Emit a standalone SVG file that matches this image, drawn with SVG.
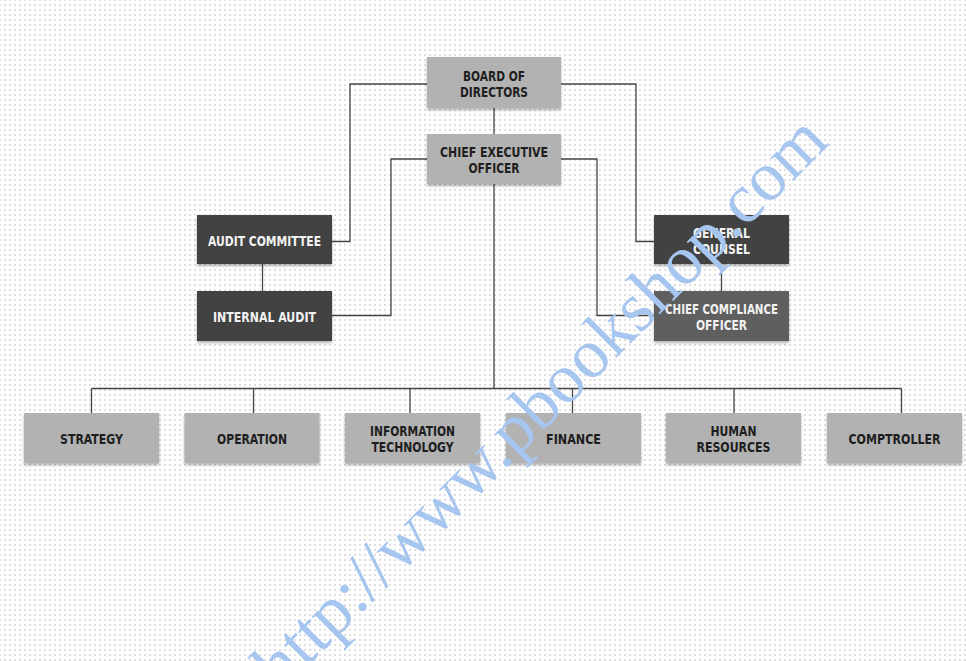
<svg xmlns="http://www.w3.org/2000/svg" width="966" height="661" viewBox="0 0 966 661">
<defs>
<pattern id="dots" x="9" y="4" width="5" height="5" patternUnits="userSpaceOnUse">
<rect x="0" y="0" width="2" height="2" fill="#dedede"/>
</pattern>
<filter id="sh" x="-10%" y="-20%" width="120%" height="150%">
<feDropShadow dx="0" dy="2" stdDeviation="1.5" flood-color="#000" flood-opacity="0.3"/>
</filter>
</defs>
<style>
.lt{fill:#b2b2b2;filter:url(#sh)}
.dk{fill:#434343;filter:url(#sh)}
.md{fill:#5e5e5e;filter:url(#sh)}
text.l{font-family:"DejaVu Sans Condensed","DejaVu Sans",sans-serif;font-stretch:condensed;font-weight:bold;font-size:14px;text-anchor:middle}
.tl{fill:#1e1e1e}
.td{fill:#f2f2f2}
.cn path{fill:none;stroke:#444;stroke-width:1.3}
.wm{font-family:"Liberation Serif","Times New Roman",serif;font-size:70px;fill:#a6c6f0}
</style>
<rect width="966" height="661" fill="#fff"/>
<rect width="966" height="661" fill="url(#dots)"/>
<g class="cn" id="connectors">
<path d="M494 108V134"/>
<path d="M427 84H350V241.5H332"/>
<path d="M561 84H636V241.5H654"/>
<path d="M427 159H391V315.5H332"/>
<path d="M561 159H597V315.5H654"/>
<path d="M262.5 264V291"/>
<path d="M721.5 264V291"/>
<path d="M494 184V388.5"/>
<path d="M91.5 388.5H901.5"/>
<path d="M91.5 388.5V413M253.5 388.5V413M410 388.5V413M572.5 388.5V413M734 388.5V413M901.5 388.5V413"/>
</g>
<g id="board">
<rect class="lt" x="427" y="57" width="134" height="51"/>
<text class="l tl" x="494" y="80.5" textLength="62" lengthAdjust="spacingAndGlyphs">BOARD OF</text>
<text class="l tl" x="494" y="96.5" textLength="68" lengthAdjust="spacingAndGlyphs">DIRECTORS</text>
</g>
<g id="ceo">
<rect class="lt" x="427" y="134" width="134" height="50"/>
<text class="l tl" x="494" y="157.3" textLength="108" lengthAdjust="spacingAndGlyphs">CHIEF EXECUTIVE</text>
<text class="l tl" x="494" y="173.3" textLength="51" lengthAdjust="spacingAndGlyphs">OFFICER</text>
</g>
<g id="audit-committee">
<rect class="dk" x="197" y="215" width="135" height="49"/>
<text class="l td" x="264.5" y="246" textLength="113" lengthAdjust="spacingAndGlyphs">AUDIT COMMITTEE</text>
</g>
<g id="internal-audit">
<rect class="dk" x="197" y="291" width="135" height="50"/>
<text class="l td" x="264.5" y="322" textLength="103" lengthAdjust="spacingAndGlyphs">INTERNAL AUDIT</text>
</g>
<g id="general-counsel">
<rect class="dk" x="654" y="215" width="135" height="49"/>
<text class="l td" x="721.5" y="238" textLength="57" lengthAdjust="spacingAndGlyphs">GENERAL</text>
<text class="l td" x="721.5" y="254" textLength="57" lengthAdjust="spacingAndGlyphs">COUNSEL</text>
</g>
<g id="cco">
<rect class="md" x="654" y="291" width="135" height="50"/>
<text class="l td" x="721.5" y="314" textLength="113" lengthAdjust="spacingAndGlyphs">CHIEF COMPLIANCE</text>
<text class="l td" x="721.5" y="330" textLength="51" lengthAdjust="spacingAndGlyphs">OFFICER</text>
</g>
<g id="strategy">
<rect class="lt" x="24" y="413" width="135" height="50"/>
<text class="l tl" x="91.5" y="444" textLength="63" lengthAdjust="spacingAndGlyphs">STRATEGY</text>
</g>
<g id="operation">
<rect class="lt" x="184.5" y="413" width="135" height="50"/>
<text class="l tl" x="252" y="444" textLength="70" lengthAdjust="spacingAndGlyphs">OPERATION</text>
</g>
<g id="it">
<rect class="lt" x="345" y="413" width="135" height="50"/>
<text class="l tl" x="412.5" y="436" textLength="85" lengthAdjust="spacingAndGlyphs">INFORMATION</text>
<text class="l tl" x="412.5" y="451.7" textLength="82" lengthAdjust="spacingAndGlyphs">TECHNOLOGY</text>
</g>
<g id="finance">
<rect class="lt" x="506" y="413" width="135" height="50"/>
<text class="l tl" x="573.5" y="444" textLength="55" lengthAdjust="spacingAndGlyphs">FINANCE</text>
</g>
<g id="hr">
<rect class="lt" x="666" y="413" width="135" height="50"/>
<text class="l tl" x="733.5" y="436" textLength="46" lengthAdjust="spacingAndGlyphs">HUMAN</text>
<text class="l tl" x="733.5" y="451.7" textLength="74" lengthAdjust="spacingAndGlyphs">RESOURCES</text>
</g>
<g id="comptroller">
<rect class="lt" x="827" y="413" width="135" height="50"/>
<text class="l tl" x="894.5" y="444" textLength="92" lengthAdjust="spacingAndGlyphs">COMPTROLLER</text>
</g>
<text class="wm" transform="translate(281 693) rotate(-45)">http://www.pbookshop.com</text>
</svg>
